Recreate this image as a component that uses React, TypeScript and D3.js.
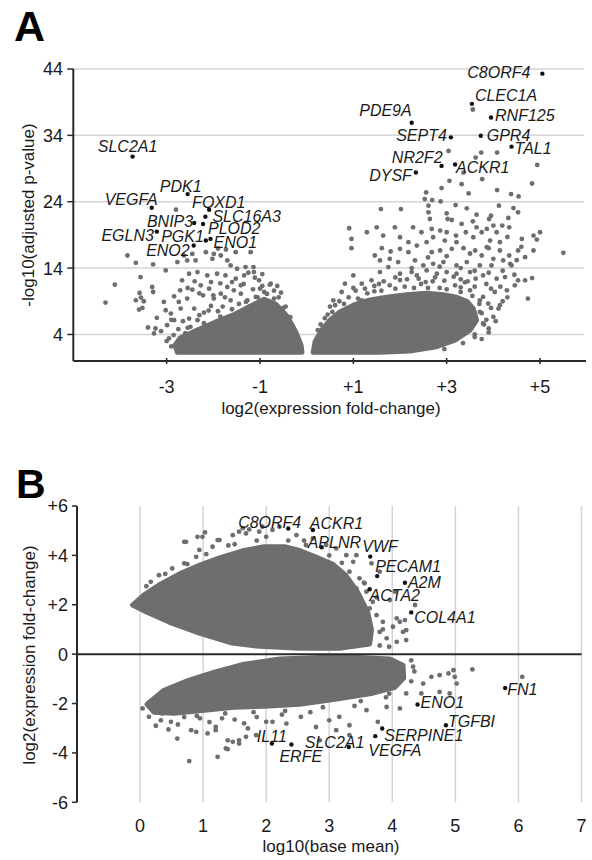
import React from "react";
import * as d3 from "d3";

// ---------- Panel A: volcano plot ----------
const volcanoXTicks = [-3, -1, 1, 3, 5];
const volcanoYTicks = [4, 14, 24, 34, 44];

// outline of the dense (solid) part of each cloud, [log2FC, -log10 p]
const volcanoLeftCloud: [number, number][] = [
  [-2.77, 1.3], [-2.82, 2.4], [-2.71, 3.45], [-2.39, 4.5], [-1.96, 5.85], [-1.54, 7.05],
  [-1.17, 8.4], [-0.91, 9.3], [-0.66, 8.55], [-0.42, 6.75], [-0.23, 4.35], [-0.12, 2.4], [-0.1, 1.3],
];
const volcanoRightCloud: [number, number][] = [
  [0.14, 1.3], [0.18, 2.9], [0.32, 4.65], [0.5, 6.15], [0.71, 7.4], [1.0, 8.4], [1.36, 9.2],
  [1.71, 9.6], [2.14, 10.0], [2.57, 10.2], [2.93, 10.0], [3.21, 9.6], [3.43, 9.0], [3.57, 7.9],
  [3.64, 6.15], [3.5, 4.65], [3.18, 3.15], [2.75, 2.1], [2.21, 1.5], [1.57, 1.3],
];
const volcanoLeftPoints: [number, number][] = [
  [-3.84, 15.9], [-3.66, 14.8], [-3.29, 14.55], [-4.11, 11.5], [-4.31, 8.8], [-3.56, 12.65],
  [-3.58, 10.25], [-3.31, 11.15], [-3.29, 10.4], [-3.66, 9.15], [-3.49, 9.0], [-3.52, 8.0],
  [-3.59, 7.75], [-3.21, 6.5], [-3.4, 5.05], [-3.24, 4.9], [-3.12, 4.5], [-3.27, 4.15],
  [-3.06, 8.9], [-2.84, 9.75], [-3.02, 7.65], [-2.91, 7.15], [-2.84, 6.15], [-2.99, 5.4],
  [-2.74, 8.9], [-2.56, 9.4], [-2.7, 7.9], [-2.41, 7.9], [-2.52, 6.4], [-2.34, 6.15],
  [-2.49, 5.15], [-2.71, 10.65], [-2.45, 10.75], [-2.27, 11.4], [-2.09, 10.9], [-2.22, 9.9],
  [-1.99, 9.4], [-1.84, 10.15], [-1.7, 11.15], [-1.56, 10.65], [-1.63, 9.15], [-1.41, 10.15],
  [-1.27, 9.15], [-1.09, 9.65], [-0.91, 10.4], [-0.77, 11.65], [-0.63, 11.3], [-1.02, 12.15],
  [-1.41, 11.4], [-1.52, 12.4], [-1.74, 12.9], [-1.92, 13.15], [-2.13, 12.9], [-2.34, 13.4],
  [-2.52, 13.15], [-2.67, 12.15], [-1.63, 14.4], [-1.49, 13.9], [-1.31, 14.15], [-1.13, 13.4],
  [-1.34, 12.9], [-3.02, 13.65], [-2.77, 14.9], [-2.56, 15.15], [-2.38, 15.15], [-2.16, 16.4],
  [-1.99, 16.15], [-1.84, 15.9], [-1.7, 15.15], [-1.52, 16.4], [-1.2, 16.4], [-2.02, 15.4],
  [-2.63, 15.9], [-2.45, 16.15], [-2.8, 22.8], [-0.79, 11.5], [-1.14, 14.15], [-1.11, 12.55],
  [-1.9, 16.95], [-1.73, 16.8], [-3.55, 9.55], [-2.1, 7.6], [-1.8, 8.2], [-1.45, 8.6],
  [-2.6, 4.2], [-2.95, 3.4], [-0.45, 8.2], [-0.6, 9.6],
  [-2.9, 2.2], [-2.85, 3.9], [-2.55, 5.0], [-2.2, 5.7], [-1.85, 6.7], [-1.6, 7.8], [-1.3, 8.9],
  [-1.05, 9.6], [-0.85, 10.1], [-0.7, 9.4], [-0.5, 8.0], [-0.35, 6.6], [-2.3, 6.9], [-2.05, 8.3],
  [-1.15, 10.8], [-0.95, 11.3], [-3.0, 3.0], [-2.75, 4.8], [-0.3, 5.2], [-0.2, 3.3],
  [-1.6, 11.9], [-1.85, 11.7], [-2.05, 11.9], [-2.4, 12.0], [-2.55, 11.0], [-2.3, 10.2],
  [-2.0, 9.9], [-1.75, 9.6], [-1.35, 11.6], [-1.0, 10.9], [-0.7, 10.6], [-0.95, 13.1],
  [-1.25, 13.3], [-0.55, 10.3], [-2.9, 6.2], [-2.65, 6.0], [-2.2, 7.3], [-1.9, 7.5],
];
const volcanoRightPoints: [number, number][] = [
  [3.56, 37.9], [3.04, 31.65], [3.62, 30.65], [3.74, 31.4], [4.08, 31.4], [4.94, 29.55],
  [3.36, 28.4], [3.06, 27.15], [3.32, 26.65], [3.76, 27.4], [4.83, 26.75], [2.89, 26.05],
  [2.56, 25.4], [3.47, 25.25], [4.08, 25.75], [4.38, 25.15], [4.54, 24.8], [2.53, 24.4],
  [2.69, 24.25], [2.87, 24.05], [3.19, 23.5], [2.61, 23.4], [3.43, 23.0], [4.12, 23.4],
  [4.43, 23.05], [1.59, 22.9], [2.02, 22.9], [2.61, 22.4], [3.0, 22.25], [3.64, 22.05],
  [4.53, 22.4], [2.64, 21.4], [3.02, 21.4], [3.11, 21.25], [3.95, 21.9], [3.91, 21.4],
  [4.32, 21.55], [3.32, 20.65], [3.56, 21.05], [3.64, 20.15], [4.0, 20.4], [4.19, 20.4],
  [0.91, 20.0], [1.29, 19.4], [1.5, 20.15], [1.89, 20.15], [2.28, 20.15], [2.46, 19.4],
  [2.68, 19.9], [2.86, 19.65], [3.0, 19.4], [3.2, 18.9], [3.41, 19.4], [3.75, 19.4],
  [3.86, 19.9], [4.07, 19.4], [4.34, 20.15], [5.0, 19.4], [4.86, 18.9], [0.96, 18.4],
  [0.96, 17.0], [1.64, 18.9], [2.0, 18.65], [2.18, 17.9], [2.36, 17.4], [2.57, 17.9],
  [2.71, 18.65], [2.96, 18.15], [3.21, 17.9], [3.57, 18.65], [3.93, 18.15], [4.14, 17.9],
  [4.61, 18.4], [4.93, 18.3], [1.61, 17.0], [1.8, 16.5], [2.0, 16.9], [2.18, 16.4],
  [2.68, 16.4], [2.86, 16.65], [3.11, 16.9], [3.36, 17.0], [3.61, 16.65], [3.86, 17.15],
  [4.14, 16.65], [4.34, 15.9], [4.53, 16.65], [4.86, 16.65], [5.5, 16.3], [4.68, 15.65],
  [4.36, 14.65], [4.21, 15.15], [1.46, 15.9], [1.57, 15.15], [1.78, 15.4], [1.96, 14.9],
  [2.32, 15.15], [2.5, 14.4], [2.71, 14.65], [2.93, 14.9], [3.21, 14.4], [3.43, 14.9],
  [3.71, 14.4], [3.96, 14.4], [4.39, 14.4], [1.75, 14.15], [1.57, 13.4], [2.0, 13.15],
  [2.25, 13.4], [2.36, 12.9], [2.57, 13.65], [2.79, 13.15], [3.0, 13.4], [3.21, 13.15],
  [3.5, 13.4], [3.78, 12.9], [4.07, 12.4], [4.25, 12.65], [4.53, 12.15], [4.68, 12.15],
  [4.83, 12.5], [4.46, 11.4], [4.29, 10.65], [4.03, 10.4], [4.74, 9.4], [1.0, 12.9],
  [0.82, 11.65], [1.18, 11.65], [1.39, 12.15], [0.75, 10.4], [0.57, 9.15], [3.78, 9.65],
  [3.71, 7.4], [3.89, 8.65], [4.11, 7.9], [4.0, 6.65], [3.78, 5.65], [4.14, 8.4],
  [0.39, 6.45], [0.24, 4.65], [0.61, 8.4], [1.18, 9.15], [1.78, 11.4], [3.18, 11.4],
  [3.5, 10.65], [3.71, 9.15], [3.39, 11.85], [2.1, 11.2], [2.45, 11.6], [2.85, 11.0],
  [1.45, 10.5], [3.85, 6.2], [3.6, 4.0], [3.9, 4.9],
  [0.55, 7.4], [0.8, 8.6], [1.1, 9.4], [1.3, 10.2], [1.6, 10.6], [1.9, 10.9], [2.3, 11.0],
  [2.6, 11.0], [3.0, 10.8], [3.3, 10.4], [3.55, 9.8], [3.7, 8.6], [3.75, 7.2], [3.8, 5.5],
  [3.6, 3.6], [3.35, 2.7], [2.95, 1.8], [0.45, 7.0], [0.7, 9.0], [1.05, 10.6], [1.55, 11.6],
  [2.0, 12.2], [2.7, 12.0], [3.3, 12.3], [3.6, 11.2], [0.3, 5.5], [0.25, 3.5],
  [1.25, 10.9], [1.45, 11.3], [1.65, 12.0], [1.9, 12.6], [2.15, 12.3], [2.4, 12.4], [2.55, 11.9],
  [2.75, 12.6], [2.95, 12.1], [3.15, 12.7], [3.3, 11.1], [3.45, 12.0], [3.62, 12.4], [3.85, 11.6],
  [3.95, 10.9], [4.15, 11.2], [4.3, 9.6], [4.2, 9.0], [3.95, 8.0], [4.05, 6.0], [3.9, 4.3],
  [3.75, 3.3], [1.0, 11.0], [0.9, 9.6], [0.5, 8.2], [2.25, 14.0], [2.85, 14.2], [3.3, 14.0],
  [3.6, 13.6], [3.9, 13.3], [4.2, 13.6], [4.0, 15.4], [3.75, 15.9], [3.5, 16.2], [3.0, 15.8],
  [2.6, 15.6], [4.5, 15.2], [4.45, 13.0], [4.6, 17.2], [4.3, 18.7], [3.9, 17.0],
];
const volcanoGenes = [
  "SLC2A1", "PDK1", "VEGFA", "FOXD1", "SLC16A3", "BNIP3", "PLOD2", "EGLN3", "PGK1", "ENO1", "ENO2",
  "C8ORF4", "CLEC1A", "RNF125", "PDE9A", "SEPT4", "GPR4", "TAL1", "NR2F2", "ACKR1", "DYSF",
];
const volcanoGeneFC = [
  -3.73, -2.55, -3.32, -2.09, -2.17, -2.41, -2.22, -3.21, -2.16, -2.06, -2.42,
  5.05, 3.54, 3.95, 2.25, 3.09, 3.73, 4.39, 2.89, 3.18, 2.34,
];
const volcanoGeneP = [
  30.8, 25.15, 23.1, 22.8, 21.75, 20.8, 20.65, 19.5, 18.15, 18.4, 17.4,
  43.3, 38.75, 36.7, 35.9, 33.7, 33.95, 32.3, 29.4, 29.6, 28.4,
];

// ---------- Panel B: MA plot ----------
const maXTicks = [0, 1, 2, 3, 4, 5, 6, 7];
const maYTicks = [-6, -4, -2, 0, 2, 4, 6];
const maUpperCloud: [number, number][] = [
  [-0.12, 1.99], [0.06, 2.39], [0.3, 2.8], [0.62, 3.24], [0.94, 3.6], [1.26, 3.9], [1.65, 4.2],
  [1.97, 4.35], [2.29, 4.35], [2.53, 4.2], [2.77, 3.95], [3.05, 3.65], [3.26, 3.2], [3.45, 2.51],
  [3.61, 1.7], [3.67, 0.97], [3.64, 0.41], [3.16, 0.24], [2.53, 0.24], [1.89, 0.32], [1.46, 0.45],
  [0.94, 0.85], [0.46, 1.3], [0.11, 1.7],
];
const maLowerCloud: [number, number][] = [
  [0.11, -2.03], [0.38, -1.46], [0.78, -1.05], [1.18, -0.73], [1.65, -0.41], [2.21, -0.2],
  [2.85, -0.14], [3.48, -0.14], [3.96, -0.2], [4.17, -0.45], [4.18, -0.97], [4.04, -1.34],
  [3.69, -1.58], [3.12, -1.82], [2.53, -2.03], [1.97, -2.11], [1.49, -2.15], [1.02, -2.27],
  [0.54, -2.39], [0.22, -2.35],
];
const maUpperPoints: [number, number][] = [
  [0.7, 4.55], [0.91, 4.75], [1.03, 4.93], [1.26, 4.62], [1.47, 4.82], [1.63, 5.1], [1.68, 4.89],
  [1.89, 4.96], [2.0, 4.75], [2.1, 5.03], [2.21, 5.16], [2.48, 4.82], [2.63, 4.42], [2.74, 4.69],
  [2.95, 4.42], [3.11, 4.28], [3.27, 4.01], [3.38, 3.74], [3.43, 4.01], [3.32, 3.34], [3.48, 3.07],
  [3.43, 2.66], [3.59, 2.53], [3.69, 2.12], [3.64, 1.85], [3.75, 1.58], [3.85, 1.31], [3.8, 0.9],
  [3.91, 0.64], [4.01, 1.11], [4.12, 1.31], [4.17, 0.9], [4.07, 0.5], [4.22, 0.57], [3.67, 3.68],
  [3.8, 3.34], [3.56, 2.87], [3.96, 2.19], [4.04, 2.53], [4.36, 1.99], [4.2, 1.38], [4.22, 0.97],
  [4.07, 1.45], [0.17, 2.93], [0.3, 3.2], [0.51, 3.47], [0.7, 3.68], [0.89, 3.94], [0.94, 4.22],
  [1.15, 4.35], [1.23, 4.62], [0.99, 4.75], [0.73, 4.55], [1.57, 4.96], [1.73, 5.05], [1.94, 5.16],
  [1.4, 4.4], [1.85, 4.6], [2.35, 4.6], [2.6, 4.6], [3.0, 4.0], [3.2, 3.7],
  [0.1, 2.75], [0.4, 3.25], [0.75, 3.65], [1.05, 4.05], [1.5, 4.45], [3.55, 2.9], [3.75, 2.3],
  [3.85, 1.0], [3.8, 0.35], [3.95, 0.3],
];
const maLowerPoints: [number, number][] = [
  [0.04, -2.2], [0.14, -2.54], [0.59, -3.42], [0.78, -4.33], [1.23, -4.16], [0.89, -3.15],
  [1.07, -3.21], [0.49, -2.74], [0.33, -2.68], [1.39, -3.49], [1.47, -3.55], [1.57, -3.49],
  [1.68, -3.35], [1.71, -3.01], [1.36, -3.82], [2.0, -2.74], [2.1, -2.74], [2.32, -2.81],
  [2.55, -2.54], [2.79, -2.95], [3.0, -2.68], [3.16, -2.54], [3.32, -2.88], [3.32, -3.28],
  [3.59, -2.27], [3.77, -2.74], [3.91, -2.14], [4.12, -2.2], [4.22, -1.59], [4.33, -0.51],
  [4.49, -1.19], [4.62, -0.92], [4.75, -0.85], [4.89, -0.78], [4.99, -0.92], [5.02, -1.19],
  [4.97, -0.65], [5.27, -0.62], [4.46, -1.59], [4.75, -1.53], [4.91, -1.59], [6.06, -0.92],
  [3.11, -3.08], [2.85, -3.49], [1.84, -3.28], [0.81, -3.08], [1.2, -3.08], [1.57, -3.62],
  [1.39, -3.85], [0.41, -2.34], [0.25, -2.9], [0.45, -3.05], [0.6, -2.85], [0.7, -2.55],
  [0.95, -2.6], [1.1, -2.75], [1.3, -2.6], [1.5, -2.65], [1.65, -2.8], [1.85, -2.55],
  [1.2, -2.95], [0.35, -2.4], [2.25, -2.45], [2.7, -2.35], [3.4, -2.1], [3.9, -1.75],
  [0.9, -2.5], [1.35, -2.4], [1.8, -2.35], [2.3, -2.3], [2.9, -2.15], [3.5, -1.9], [3.95, -1.6],
  [4.3, -1.1], [4.35, -0.7], [4.3, -0.25],
];
const maGenes = [
  "C8ORF4", "ACKR1", "APLNR", "VWF", "PECAM1", "A2M", "ACTA2", "COL4A1",
  "IL11", "ERFE", "SLC2A1", "VEGFA", "SERPINE1", "ENO1", "TGFBI", "FN1",
];
const maGeneMean = [2.35, 2.74, 2.88, 3.65, 3.76, 4.2, 3.64, 4.3, 2.09, 2.4, 3.31, 3.73, 3.84, 4.4, 4.85, 5.79];
const maGeneFC = [5.09, 5.03, 4.33, 3.95, 3.16, 2.89, 2.63, 1.69, -3.62, -3.66, -3.76, -3.32, -3.01, -2.04, -2.88, -1.37];

// ---------- label placement (layout, px offsets from the dot) ----------
type Place = [number, number, "start" | "middle" | "end"];
const placeA: Record<string, Place> = {
  SLC2A1: [-5, -5, "middle"], PDK1: [14, -2, "end"], VEGFA: [6, -3, "end"], FOXD1: [-17, -2, "start"],
  SLC16A3: [7, 5, "start"], BNIP3: [-1, 4, "end"], PLOD2: [5, 10, "start"], EGLN3: [-3, 9, "end"],
  PGK1: [-2, 1, "end"], ENO1: [3, 9, "start"], ENO2: [-4, 10, "end"], C8ORF4: [-12, 4, "end"],
  CLEC1A: [3, -3, "start"], RNF125: [4, 4, "start"], PDE9A: [0, -7, "end"], SEPT4: [-4, 4, "end"],
  GPR4: [6, 5, "start"], TAL1: [3, 7, "start"], NR2F2: [1, -3, "end"], ACKR1: [1, 8, "start"],
  DYSF: [-4, 8, "end"],
};
const placeB: Record<string, Place> = {
  C8ORF4: [13, 0, "end"], ACKR1: [-3, -1, "start"], APLNR: [-14, 1, "start"], VWF: [-8, -5, "start"],
  PECAM1: [-2, -4, "start"], A2M: [3, 5, "start"], ACTA2: [0, 12, "start"], COL4A1: [3, 11, "start"],
  IL11: [-15, -2, "start"], ERFE: [-12, 17, "start"], SLC2A1: [-44, 1, "start"], VEGFA: [-7, 20, "start"],
  SERPINE1: [2, 13, "start"], ENO1: [3, 3, "start"], TGFBI: [2, 2, "start"], FN1: [2, 7, "start"],
};

const FONT = "'Liberation Sans', Arial, Helvetica, sans-serif";
const GRAY = "#6e6e6e";
const AXIS = "#2a2a2a";
const GRID = "#d4d4d4";
const TXT = "#1a1a1a";
const R = 2.4;
const TICK_FS = 18;

const fmtSigned = (v: number) => (v > 0 ? `+${v}` : `${v}`);

export default function App() {
  const xA = d3.scaleLinear().domain([-5, 6]).range([73.3, 586.7]);
  const yA = d3.scaleLinear().domain([0, 44]).range([361, 69]);
  const xB = d3.scaleLinear().domain([-1, 7]).range([77, 581.5]);
  const yB = d3.scaleLinear().domain([-6, 6]).range([802.3, 506]);

  const lineA = d3.line<[number, number]>().x((d) => xA(d[0])).y((d) => yA(d[1])).curve(d3.curveLinearClosed);
  const lineB = d3.line<[number, number]>().x((d) => xB(d[0])).y((d) => yB(d[1])).curve(d3.curveLinearClosed);

  const labelStyle = { fontFamily: FONT, fontSize: 16, fontStyle: "italic" as const, fill: TXT };

  return (
    <svg width={592} height={860} style={{ position: "absolute", left: 0, top: 0, background: "#fff" }}>
      <rect width={592} height={860} fill="#fff" />
      {/* ===== Panel A ===== */}
      <text x={14} y={41} fontFamily={FONT} fontSize={43} fontWeight="bold" fill="#000">A</text>
      {volcanoYTicks.map((t) => (
        <line key={`ga${t}`} x1={xA(-5)} x2={584} y1={yA(t)} y2={yA(t)} stroke={GRID} strokeWidth={1.5} />
      ))}
      <path d={lineA(volcanoLeftCloud) || ""} fill={GRAY} stroke={GRAY} strokeWidth={5} strokeLinejoin="round" />
      <path d={lineA(volcanoRightCloud) || ""} fill={GRAY} stroke={GRAY} strokeWidth={5} strokeLinejoin="round" />
      {volcanoLeftPoints.concat(volcanoRightPoints).map((p, i) => (
        <circle key={`pa${i}`} cx={xA(p[0])} cy={yA(p[1])} r={R} fill={GRAY} />
      ))}
      <line x1={xA(-5)} x2={xA(-5)} y1={yA(44)} y2={yA(0)} stroke={AXIS} strokeWidth={2} />
      <line x1={xA(-5)} x2={586} y1={yA(0)} y2={yA(0)} stroke={AXIS} strokeWidth={2} />
      {volcanoYTicks.map((t) => (
        <g key={`ya${t}`}>
          <line x1={xA(-5) - 6} x2={xA(-5)} y1={yA(t)} y2={yA(t)} stroke={AXIS} strokeWidth={1.5} />
          <text x={63} y={yA(t)} dy="0.36em" textAnchor="end" fontFamily={FONT} fontSize={TICK_FS} fill={TXT}>{t}</text>
        </g>
      ))}
      {volcanoXTicks.map((t) => (
        <g key={`xa${t}`}>
          <line x1={xA(t)} x2={xA(t)} y1={yA(0) - 3} y2={yA(0) + 3} stroke={AXIS} strokeWidth={1.5} />
          <text x={xA(t)} y={393} textAnchor="middle" fontFamily={FONT} fontSize={TICK_FS} fill={TXT}>{fmtSigned(t)}</text>
        </g>
      ))}
      <text x={331} y={414} textAnchor="middle" fontFamily={FONT} fontSize={17} fill={TXT}>log2(expression fold-change)</text>
      <text transform={`translate(34,215) rotate(-90)`} textAnchor="middle" fontFamily={FONT} fontSize={17} fill={TXT}>-log10(adjusted p-value)</text>
      {volcanoGenes.map((g, i) => {
        const cx = xA(volcanoGeneFC[i]);
        const cy = yA(volcanoGeneP[i]);
        const pl = placeA[g];
        return (
          <g key={`la${g}`}>
            <circle cx={cx} cy={cy} r={2.2} fill="#111" />
            <text x={cx + pl[0]} y={cy + pl[1]} textAnchor={pl[2]} {...labelStyle}>{g}</text>
          </g>
        );
      })}

      {/* ===== Panel B ===== */}
      <text x={16} y={498} fontFamily={FONT} fontSize={41} fontWeight="bold" fill="#000">B</text>
      {maXTicks.map((t) => (
        <line key={`gb${t}`} x1={xB(t)} x2={xB(t)} y1={yB(6)} y2={yB(-6)} stroke={GRID} strokeWidth={1.5} />
      ))}
      <path d={lineB(maUpperCloud) || ""} fill={GRAY} stroke={GRAY} strokeWidth={5} strokeLinejoin="round" />
      <path d={lineB(maLowerCloud) || ""} fill={GRAY} stroke={GRAY} strokeWidth={5} strokeLinejoin="round" />
      {maUpperPoints.concat(maLowerPoints).map((p, i) => (
        <circle key={`pb${i}`} cx={xB(p[0])} cy={yB(p[1])} r={R} fill={GRAY} />
      ))}
      <line x1={xB(-1)} x2={xB(7)} y1={yB(0)} y2={yB(0)} stroke={AXIS} strokeWidth={2} />
      <line x1={xB(-1)} x2={xB(-1)} y1={yB(6)} y2={yB(-6)} stroke={AXIS} strokeWidth={2} />
      {maYTicks.map((t) => (
        <g key={`yb${t}`}>
          <line x1={xB(-1) - 5} x2={xB(-1)} y1={yB(t)} y2={yB(t)} stroke={AXIS} strokeWidth={1.5} />
          <text x={68} y={yB(t)} dy="0.36em" textAnchor="end" fontFamily={FONT} fontSize={TICK_FS} fill={TXT}>{fmtSigned(t)}</text>
        </g>
      ))}
      {maXTicks.map((t) => (
        <text key={`xb${t}`} x={xB(t)} y={832} textAnchor="middle" fontFamily={FONT} fontSize={TICK_FS} fill={TXT}>{t}</text>
      ))}
      <text x={331} y={852} textAnchor="middle" fontFamily={FONT} fontSize={17} fill={TXT}>log10(base mean)</text>
      <text transform={`translate(35,655) rotate(-90)`} textAnchor="middle" fontFamily={FONT} fontSize={17} fill={TXT}>log2(expression fold-change)</text>
      {maGenes.map((g, i) => {
        const cx = xB(maGeneMean[i]);
        const cy = yB(maGeneFC[i]);
        const pl = placeB[g];
        return (
          <g key={`lb${g}`}>
            <circle cx={cx} cy={cy} r={2.2} fill="#111" />
            <text x={cx + pl[0]} y={cy + pl[1]} textAnchor={pl[2]} {...labelStyle}>{g}</text>
          </g>
        );
      })}
    </svg>
  );
}
